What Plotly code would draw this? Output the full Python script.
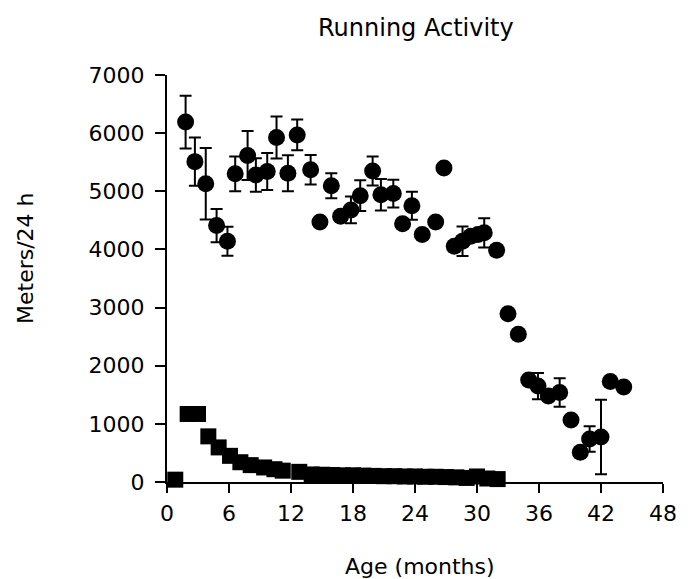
import plotly.graph_objects as go

# Circles: running activity (mean ± SEM)
circle_age = [1.8, 2.7, 3.75, 4.8, 5.85, 6.6, 7.8, 8.6, 9.7, 10.6, 11.7, 12.6, 13.9, 14.8, 15.9,
              16.8, 17.8, 18.7, 19.9, 20.7, 21.9, 22.8, 23.7, 24.7, 26.0, 26.8, 27.8, 28.6, 29.4,
              30.1, 30.7, 31.9, 33.0, 34.0, 35.0, 35.9, 36.9, 38.0, 39.1, 40.0, 40.9, 42.0, 42.9, 44.2]
circle_val = [6190, 5510, 5130, 4410, 4140, 5300, 5615, 5280, 5340, 5925, 5310, 5970, 5370, 4470, 5095,
              4570, 4680, 4925, 5350, 4940, 4960, 4440, 4750, 4255, 4470, 5400, 4055, 4140, 4225,
              4255, 4285, 3985, 2895, 2540, 1755, 1650, 1480, 1540, 1065, 510, 740, 775, 1730, 1635]
circle_err = [455, 415, 615, 285, 250, 300, 420, 290, 320, 360, 310, 265, 255, None, 215,
              None, 230, 265, 250, 270, 240, None, 240, None, None, None, None, 255, None,
              None, 250, None, None, None, None, 225, None, 245, None, None, 220, 640, None, None]

# Squares: second group
square_age = [0.8, 2.0, 3.0, 4.0, 5.0, 6.1, 7.1, 8.1, 9.4, 10.4, 11.2, 12.8, 14, 15, 16, 17, 18, 19,
              20, 21, 22, 23, 24, 25, 26, 27, 28, 29, 30, 31, 32]
square_val = [40, 1170, 1170, 785, 595, 450, 340, 290, 250, 220, 195, 175, 130, 125, 120, 115, 115, 110,
              105, 100, 100, 95, 95, 90, 90, 85, 80, 70, 95, 60, 50]

x_ticks = [0, 6, 12, 18, 24, 30, 36, 42, 48]
y_ticks = [0, 1000, 2000, 3000, 4000, 5000, 6000, 7000]

FONT = "DejaVu Sans"

# page offset of the figure (body margin) = 8 px
W, H = 682, 571
L, R, T, B = 159, 27, 67, 97
PW, PH = W - L - R, H - T - B


def px_x(page_x):
    return (page_x - 8 - L) / PW


def px_y(page_y):
    return (H - B - (page_y - 8)) / PH


fig = go.Figure()
fig.add_trace(go.Scatter(
    x=square_age, y=square_val, mode="markers",
    marker=dict(symbol="square", size=16, color="black", line=dict(width=0)),
    cliponaxis=False, showlegend=False))
fig.add_trace(go.Scatter(
    x=circle_age, y=circle_val, mode="markers",
    marker=dict(symbol="circle", size=17, color="black", line=dict(width=0)),
    error_y=dict(type="data", array=circle_err, symmetric=True, color="black",
                 thickness=2, width=6),
    cliponaxis=False, showlegend=False))

fig.update_layout(
    width=W, height=H,
    margin=dict(l=L, r=R, t=T, b=B, autoexpand=False),
    paper_bgcolor="white", plot_bgcolor="white",
    font=dict(family=FONT, color="black", size=22),
    xaxis=dict(range=[0, 48], tickvals=x_ticks, ticktext=[str(v) for v in x_ticks],
               showline=True, linecolor="black", linewidth=2, ticks="outside",
               ticklen=9, tickwidth=2, tickcolor="black", showgrid=False, zeroline=False,
               ticklabelstandoff=2, tickfont=dict(size=22), automargin=False),
    yaxis=dict(range=[0, 7000], tickvals=y_ticks, ticktext=[str(v) for v in y_ticks],
               showline=True, linecolor="black", linewidth=2, ticks="outside",
               ticklen=10, tickwidth=2, tickcolor="black", showgrid=False, zeroline=False,
               ticklabelstandoff=6, tickfont=dict(size=22), automargin=False),
    annotations=[
        dict(text="Running Activity", xref="paper", yref="paper",
             x=px_x(416), y=px_y(28), xanchor="center", yanchor="middle",
             showarrow=False, font=dict(size=24, family=FONT)),
        dict(text="Age (months)", xref="paper", yref="paper",
             x=px_x(420), y=px_y(566), xanchor="center", yanchor="middle",
             showarrow=False, font=dict(size=22, family=FONT)),
        dict(text="Meters/24 h", textangle=-90, xref="paper", yref="paper",
             x=px_x(25), y=px_y(258), xanchor="center", yanchor="middle",
             showarrow=False, font=dict(size=22, family=FONT)),
    ],
)

fig.write_html("out.html")
